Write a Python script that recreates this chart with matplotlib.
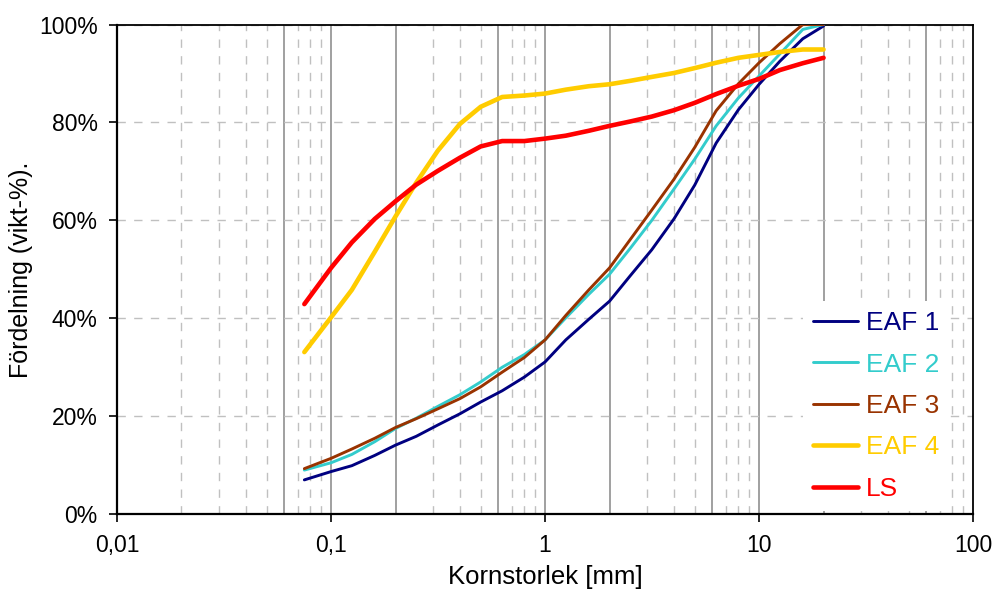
import matplotlib
matplotlib.use('Agg')
import matplotlib.pyplot as plt
from matplotlib.ticker import FixedLocator, FixedFormatter, FuncFormatter, NullFormatter

plt.rcParams['font.family'] = ['Liberation Sans', 'DejaVu Sans']

# sieve sizes in mm
sizes = [0.075, 0.1, 0.125, 0.16, 0.2, 0.25, 0.315, 0.4, 0.5, 0.63, 0.8,
         1, 1.25, 1.6, 2, 2.5, 3.15, 4, 5, 6.3, 8, 10, 12.5, 16, 20]

# passing, weight-%
eaf1 = [7.0, 8.7, 9.9, 12.0, 14.1, 15.9, 18.2, 20.5, 22.9, 25.2, 28.0,
        31.1, 35.6, 39.8, 43.5, 48.7, 54.0, 60.3, 67.2, 75.8, 82.6,
        87.8, 92.5, 97.1, 99.7]
eaf2 = [9.0, 10.5, 12.2, 14.8, 17.5, 19.6, 22.0, 24.4, 27.0, 30.0, 32.6,
        35.6, 40.1, 44.9, 49.0, 54.3, 60.0, 66.4, 72.5, 79.3, 85.0,
        89.5, 94.0, 99.0, 100.0]
eaf3 = [9.3, 11.4, 13.3, 15.5, 17.7, 19.5, 21.5, 23.6, 26.0, 29.0, 32.0,
        35.6, 40.6, 45.8, 50.3, 56.1, 62.1, 68.4, 74.9, 82.4, 87.9,
        92.2, 96.1, 100.0, 100.0]
eaf4 = [33.1, 40.2, 45.8, 53.6, 60.8, 67.7, 74.2, 79.7, 83.2, 85.2, 85.5,
        85.9, 86.7, 87.4, 87.8, 88.5, 89.3, 90.1, 91.1, 92.2, 93.2,
        93.8, 94.4, 94.9, 94.9]
ls = [42.9, 50.3, 55.5, 60.3, 63.9, 67.3, 70.1, 72.8, 75.1, 76.2, 76.2,
      76.7, 77.3, 78.3, 79.3, 80.2, 81.2, 82.5, 84.0, 85.8, 87.5,
      88.9, 90.7, 92.1, 93.2]

series = [('EAF 1', eaf1, '#000080', 2.1),
          ('EAF 2', eaf2, '#33CCCC', 2.1),
          ('EAF 3', eaf3, '#993300', 2.1),
          ('EAF 4', eaf4, '#FFCC00', 3.3),
          ('LS', ls, '#FF0000', 3.3)]

xticks = [0.01, 0.1, 1, 10, 100]
xticklabels = ['0,01', '0,1', '1', '10', '100']
# fraction boundaries drawn as solid lines
solid_lines = [0.06, 0.1, 0.2, 0.6, 1, 2, 6, 10, 20, 60]
dashed_lines = [m * d for d in (0.01, 0.1, 1, 10) for m in range(2, 10)
                if round(m * d, 4) not in solid_lines]

fig = plt.figure(figsize=(9.92, 5.91), dpi=100)
ax = fig.add_axes([0.118, 0.130, 0.863, 0.8285])

ax.set_xscale('log')
ax.set_xlim(0.01, 100)
ax.set_ylim(0, 100)

# grid
ax.xaxis.set_minor_locator(FixedLocator(dashed_lines))
ax.xaxis.set_minor_formatter(NullFormatter())
ax.grid(True, which='minor', axis='x', color='#c0c0c0', lw=1.0,
        linestyle=(0, (6, 6)), zorder=0)
ax.grid(True, which='major', axis='y', color='#c0c0c0', lw=1.0,
        linestyle=(0, (6, 6)), zorder=0)
for xv in solid_lines:
    ax.axvline(xv, color='#999999', lw=1.3, zorder=1)

for name, vals, col, lw in series:
    ax.plot(sizes, vals, color=col, lw=lw, label=name,
            solid_capstyle='round', solid_joinstyle='round', zorder=3)

ax.xaxis.set_major_locator(FixedLocator(xticks))
ax.xaxis.set_major_formatter(FixedFormatter(xticklabels))
ax.yaxis.set_major_locator(FixedLocator([0, 20, 40, 60, 80, 100]))
ax.yaxis.set_major_formatter(FuncFormatter(lambda v, p: f'{v:.0f}%'))
ax.tick_params(axis='both', which='major', labelsize=16.5, length=6,
               width=1.2, direction='out', pad=8)
ax.tick_params(axis='x', which='minor', length=0)

for side in ['left', 'bottom']:
    ax.spines[side].set_linewidth(1.6)
for side in ['top', 'right']:
    ax.spines[side].set_linewidth(1.3)

ax.set_xlabel('Kornstorlek [mm]', fontsize=18.5, labelpad=6)
ax.set_ylabel('Fördelning (vikt-%).', fontsize=18, labelpad=4)

leg = ax.legend(loc='upper left', bbox_to_anchor=(0.801, 0.436),
                fontsize=19, frameon=True, facecolor='white',
                edgecolor='none', framealpha=1.0, fancybox=False,
                borderpad=0.4, labelspacing=0.66, handlelength=1.7,
                handletextpad=0.3, borderaxespad=0)
leg.set_zorder(5)
for txt, (_, _, col, _) in zip(leg.get_texts(), series):
    txt.set_color(col)

fig.savefig('out.png', dpi=100)
